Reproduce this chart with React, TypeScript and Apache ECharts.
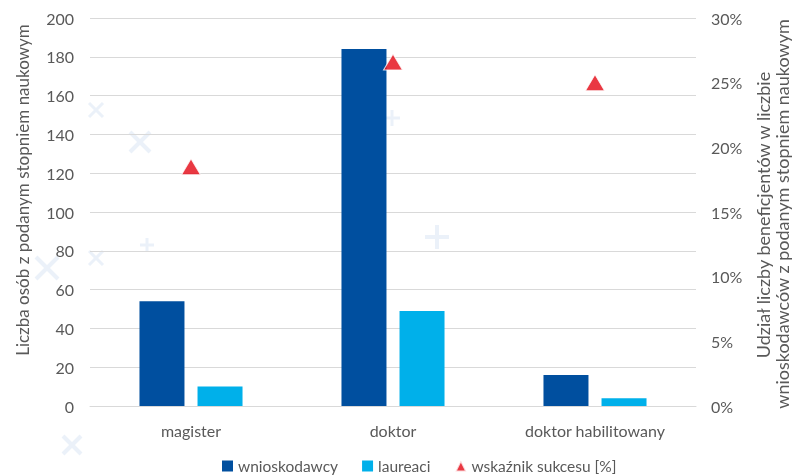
import React, { useEffect, useRef } from "react";
import * as echarts from "echarts";

const categories = ["magister", "doktor", "doktor habilitowany"];
const applicants = [54, 184, 16];
const laureates = [10, 49, 4];
const successRate = [0.185, 0.266, 0.25];

const FONT = "Lato, 'Open Sans', sans-serif";
const GRAY = "#595959";

// faint decorative background crosses: [kind, cx, cy, half-size]
const decoMarks: [string, number, number, number][] = [
  ["x", 47, 268, 11],
  ["x", 96, 258, 7],
  ["x", 96, 110, 7],
  ["x", 140, 142, 10],
  ["+", 437, 237, 12],
  ["+", 147, 245, 7],
  ["x", 72, 445, 9],
  ["+", 392, 118, 8],
];

function decoGraphics() {
  const out: any[] = [];
  decoMarks.forEach(([k, cx, cy, s]) => {
    const segs =
      k === "x"
        ? [
            [cx - s, cy - s, cx + s, cy + s],
            [cx - s, cy + s, cx + s, cy - s],
          ]
        : [
            [cx - s, cy, cx + s, cy],
            [cx, cy - s, cx, cy + s],
          ];
    segs.forEach(([x1, y1, x2, y2]) =>
      out.push({
        type: "line",
        z: -10,
        silent: true,
        shape: { x1, y1, x2, y2 },
        style: { stroke: "#ebf1f9", lineWidth: s > 8 ? 4 : 3 },
      })
    );
  });
  return out;
}

export default function App() {
  const ref = useRef<HTMLDivElement>(null);
  useEffect(() => {
    if (!ref.current) return;
    const chart = echarts.init(ref.current, undefined, { renderer: "svg" });
    chart.setOption({
      animation: false,
      textStyle: { fontFamily: FONT },
      graphic: [
        ...decoGraphics(),
        {
          type: "text",
          x: 22,
          y: 190,
          rotation: Math.PI / 2,
          style: {
            text: "Liczba osób z podanym stopniem naukowym",
            fontSize: 17,
            fontFamily: FONT,
            fill: GRAY,
            align: "center",
            verticalAlign: "middle",
          },
        },
        {
          type: "text",
          x: 763,
          y: 215,
          rotation: Math.PI / 2,
          style: {
            text: "Udział liczby beneficjentów w liczbie",
            fontSize: 18,
            fontFamily: FONT,
            fill: GRAY,
            align: "center",
            verticalAlign: "middle",
          },
        },
        {
          type: "text",
          x: 782,
          y: 214,
          rotation: Math.PI / 2,
          style: {
            text: "wnioskodawców z podanym stopniem naukowym",
            fontSize: 18,
            fontFamily: FONT,
            fill: GRAY,
            align: "center",
            verticalAlign: "middle",
          },
        },
      ],
      grid: { left: 90, right: 96, top: 18, bottom: 69 },
      legend: {
        top: 453,
        left: 217,
        itemWidth: 11,
        itemHeight: 11,
        itemGap: 24,
        textStyle: { color: GRAY, fontSize: 15.5, fontFamily: FONT },
        data: [
          { name: "wnioskodawcy", icon: "rect" },
          { name: "laureaci", icon: "rect" },
          { name: "wskaźnik sukcesu [%]", icon: "triangle" },
        ],
      },
      xAxis: {
        type: "category",
        data: categories,
        axisLine: { lineStyle: { color: "#d9d9d9" } },
        axisTick: { show: false },
        axisLabel: { color: GRAY, fontSize: 16, margin: 16, fontFamily: FONT },
      },
      yAxis: [
        {
          type: "value",
          min: 0,
          max: 200,
          interval: 20,
          axisLabel: { color: GRAY, fontSize: 16, margin: 16, fontFamily: FONT },
          splitLine: { lineStyle: { color: "#d9d9d9" } },
          axisLine: { show: false },
          axisTick: { show: false },
        },
        {
          type: "value",
          min: 0,
          max: 0.3,
          interval: 0.05,
          position: "right",
          axisLabel: {
            color: GRAY,
            fontSize: 16,
            margin: 15,
            fontFamily: FONT,
            formatter: (v: number) => Math.round(v * 100) + "%",
          },
          splitLine: { show: false },
          axisLine: { show: false },
          axisTick: { show: false },
        },
      ],
      series: [
        {
          name: "wnioskodawcy",
          type: "bar",
          data: applicants,
          barWidth: 45,
          barGap: "29%",
          itemStyle: { color: "#004f9f" },
        },
        {
          name: "laureaci",
          type: "bar",
          data: laureates,
          barWidth: 45,
          itemStyle: { color: "#00b0ea" },
        },
        {
          name: "wskaźnik sukcesu [%]",
          type: "scatter",
          yAxisIndex: 1,
          data: successRate,
          symbol: "triangle",
          symbolSize: [19, 16],
          itemStyle: { color: "#e30613", borderColor: "#ffffff", borderWidth: 1 },
        },
      ],
    });
    return () => chart.dispose();
  }, []);
  return (
    <div
      ref={ref}
      style={{ position: "fixed", left: 0, top: 0, width: 792, height: 475 }}
    />
  );
}
